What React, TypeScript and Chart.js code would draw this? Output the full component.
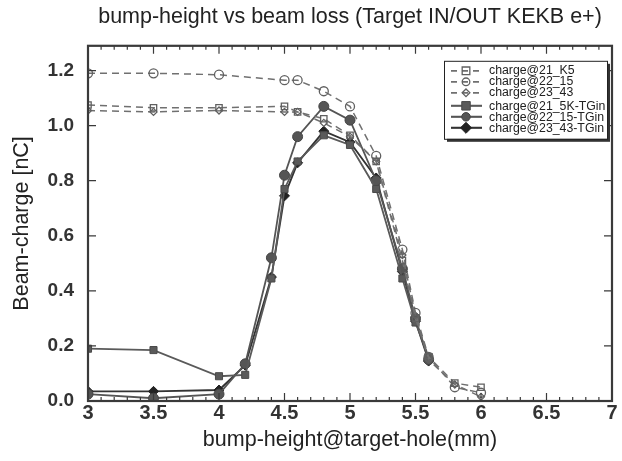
import React, { useEffect, useRef } from "react";
import { Chart, registerables } from "chart.js";

Chart.register(...registerables);

// ---- data ----
const xDashed = [3, 3.5, 4, 4.5, 4.6, 4.8, 5, 5.2, 5.4, 5.5, 5.6, 5.8, 6];
const charge21K5 = [1.075, 1.065, 1.065, 1.07, 1.05, 1.025, 0.965, 0.87, 0.51, 0.3, 0.16, 0.065, 0.05];
const charge22_15 = [1.19, 1.19, 1.185, 1.165, 1.165, 1.125, 1.07, 0.89, 0.55, 0.32, 0.16, 0.05, 0.03];
const charge23_43 = [1.055, 1.05, 1.055, 1.05, 1.05, 1.01, 0.96, 0.87, 0.53, 0.31, 0.15, 0.06, 0.015];

const xSolid = [3, 3.5, 4, 4.2, 4.4, 4.5, 4.6, 4.8, 5, 5.2, 5.4, 5.5, 5.6];
const charge21TGin = [0.19, 0.185, 0.09, 0.095, 0.445, 0.77, 0.87, 0.965, 0.93, 0.77, 0.445, 0.285, 0.16];
const charge22TGin = [0.025, 0.01, 0.025, 0.135, 0.52, 0.82, 0.96, 1.07, 1.02, 0.8, 0.48, 0.3, 0.15];
const charge23TGin = [0.035, 0.035, 0.04, 0.13, 0.45, 0.745, 0.865, 0.98, 0.94, 0.81, 0.47, 0.29, 0.145];

const labels = [
  "charge@21_K5",
  "charge@22_15",
  "charge@23_43",
  "charge@21_5K-TGin",
  "charge@22_15-TGin",
  "charge@23_43-TGin",
];

const xTickValues = [3, 3.5, 4, 4.5, 5, 5.5, 6, 6.5, 7];
const yTickValues = [0, 0.2, 0.4, 0.6, 0.8, 1.0, 1.2];

const FONT = "'Liberation Sans', Arial, Helvetica, sans-serif";
const FRAME = "#3a3a3a";

const pts = (xs: number[], ys: number[]) => xs.map((x, i) => ({ x, y: ys[i] }));

function drawMarker(ctx: CanvasRenderingContext2D, style: string, x: number, y: number, r: number, fill: string, stroke: string, lw: number) {
  ctx.save();
  ctx.beginPath();
  if (style === "rect") {
    ctx.rect(x - r, y - r, 2 * r, 2 * r);
  } else if (style === "rectRot") {
    ctx.moveTo(x, y - r * 1.3);
    ctx.lineTo(x + r * 1.3, y);
    ctx.lineTo(x, y + r * 1.3);
    ctx.lineTo(x - r * 1.3, y);
    ctx.closePath();
  } else {
    ctx.arc(x, y, r, 0, Math.PI * 2);
  }
  ctx.fillStyle = fill;
  ctx.fill();
  ctx.setLineDash([]);
  ctx.lineWidth = lw;
  ctx.strokeStyle = stroke;
  ctx.stroke();
  ctx.restore();
}

const framePlugin = {
  id: "frameTicks",
  afterDatasetsDraw(chart: any) {
    const { ctx, chartArea: a, scales } = chart;
    const xs = scales.x;
    const ys = scales.y;
    ctx.save();
    ctx.strokeStyle = FRAME;
    ctx.lineWidth = 1.2;
    for (let i = 30; i <= 70; i++) {
      const v = i / 10;
      const px = xs.getPixelForValue(v);
      const len = i % 5 === 0 ? 8 : 4;
      ctx.beginPath();
      ctx.moveTo(px, a.bottom);
      ctx.lineTo(px, a.bottom - len);
      ctx.moveTo(px, a.top);
      ctx.lineTo(px, a.top + len);
      ctx.stroke();
    }
    for (const v of yTickValues) {
      const py = ys.getPixelForValue(v);
      ctx.beginPath();
      ctx.moveTo(a.left, py);
      ctx.lineTo(a.left + 8, py);
      ctx.moveTo(a.right, py);
      ctx.lineTo(a.right - 8, py);
      ctx.stroke();
    }
    ctx.lineWidth = 2.2;
    ctx.strokeRect(a.left, a.top, a.right - a.left, a.bottom - a.top);
    ctx.restore();
  },
};

const legendPlugin = {
  id: "boxLegend",
  afterDraw(chart: any) {
    const { ctx, chartArea: a } = chart;
    const left = a.right - 168;
    const top = a.top + 15;
    const w = 163;
    const h = 78;
    ctx.save();
    ctx.fillStyle = "#333";
    ctx.fillRect(left + 3, top + 3, w, h);
    ctx.fillStyle = "#fff";
    ctx.fillRect(left, top, w, h);
    ctx.strokeStyle = "#222";
    ctx.lineWidth = 1;
    ctx.strokeRect(left + 0.5, top + 0.5, w, h);
    const rows = [10, 21, 32, 45, 56, 67];
    chart.data.datasets.forEach((ds: any, i: number) => {
      const y = top + rows[i];
      ctx.save();
      ctx.strokeStyle = ds.borderColor;
      ctx.lineWidth = ds.borderWidth + 0.3;
      ctx.setLineDash(ds.borderDash && ds.borderDash.length ? [6, 5] : []);
      ctx.beginPath();
      ctx.moveTo(left + 7, y);
      ctx.lineTo(left + 38, y);
      ctx.stroke();
      ctx.restore();
      drawMarker(
        ctx,
        ds.pointStyle,
        left + 22,
        y,
        ds.pointRadius * 0.85,
        ds.pointBackgroundColor,
        ds.pointBorderColor,
        ds.pointBorderWidth
      );
      ctx.fillStyle = "#222";
      ctx.font = `12.3px ${FONT}`;
      ctx.textBaseline = "middle";
      ctx.textAlign = "left";
      ctx.fillText(ds.label, left + 45, y + (i >= 3 ? 1 : 0));
    });
    ctx.restore();
  },
};

export default function App() {
  const ref = useRef<HTMLCanvasElement | null>(null);

  useEffect(() => {
    if (!ref.current) return;
    const dashedBase = {
      borderColor: "#707070",
      borderWidth: 1.5,
      borderDash: [7, 5],
      pointBackgroundColor: "rgba(255,255,255,0)",
      pointBorderColor: "#606060",
      pointBorderWidth: 1.3,
      tension: 0,
    };
    const solidBase = {
      borderWidth: 1.8,
      borderDash: [],
      pointBorderWidth: 1,
      tension: 0,
    };
    const chart = new Chart(ref.current, {
      type: "line",
      data: {
        datasets: [
          { ...dashedBase, label: labels[0], data: pts(xDashed, charge21K5), pointStyle: "rect", pointRadius: 4.5 },
          { ...dashedBase, label: labels[1], data: pts(xDashed, charge22_15), pointStyle: "circle", pointRadius: 4.5 },
          { ...dashedBase, label: labels[2], data: pts(xDashed, charge23_43), pointStyle: "rectRot", pointRadius: 3.5 },
          {
            ...solidBase,
            label: labels[3],
            data: pts(xSolid, charge21TGin),
            borderColor: "#5a5a5a",
            pointStyle: "rect",
            pointRadius: 5,
            pointBackgroundColor: "#5a5a5a",
            pointBorderColor: "#4a4a4a",
          },
          {
            ...solidBase,
            label: labels[4],
            data: pts(xSolid, charge22TGin),
            borderColor: "#555",
            pointStyle: "circle",
            pointRadius: 5,
            pointBackgroundColor: "#555",
            pointBorderColor: "#444",
          },
          {
            ...solidBase,
            label: labels[5],
            data: pts(xSolid, charge23TGin),
            borderColor: "#333",
            pointStyle: "rectRot",
            pointRadius: 5,
            pointBackgroundColor: "#222",
            pointBorderColor: "#222",
          },
        ] as any,
      },
      options: {
        animation: false,
        responsive: false,
        devicePixelRatio: window.devicePixelRatio || 1,
        layout: { padding: { left: 0, right: 10, top: 0, bottom: 0 } },
        plugins: {
          legend: { display: false },
          tooltip: { enabled: false },
          title: {
            display: true,
            text: "bump-height vs beam loss (Target IN/OUT KEKB e+)",
            fullSize: false,
            color: "#222",
            font: { family: FONT, size: 21.5, weight: "normal" },
            padding: { top: 4, bottom: 16 },
          },
        },
        scales: {
          x: {
            type: "linear",
            min: 3,
            max: 7,
            afterBuildTicks: (s: any) => {
              s.ticks = xTickValues.map((v) => ({ value: v }));
            },
            afterFit: (s: any) => {
              s.height = 60;
            },
            grid: { display: false, drawTicks: false },
            border: { display: false },
            ticks: {
              color: "#333",
              padding: 0,
              maxRotation: 0,
              autoSkip: false,
              font: { family: FONT, size: 20, weight: "bold" },
              callback: (v: any) => String(v),
            },
            title: {
              display: true,
              text: "bump-height@target-hole(mm)",
              color: "#222",
              font: { family: FONT, size: 21.5, weight: "normal" },
              padding: 8,
            },
          },
          y: {
            type: "linear",
            min: 0,
            max: 1.29,
            afterBuildTicks: (s: any) => {
              s.ticks = yTickValues.map((v) => ({ value: v }));
            },
            afterFit: (s: any) => {
              s.width = 88;
            },
            grid: { display: false, drawTicks: false },
            border: { display: false },
            ticks: {
              color: "#333",
              padding: 14,
              autoSkip: false,
              font: { family: FONT, size: 19, weight: "bold" },
              callback: (v: any) => Number(v).toFixed(1),
            },
            title: {
              display: true,
              text: "Beam-charge [nC]",
              color: "#222",
              font: { family: FONT, size: 21.5, weight: "normal" },
              padding: 9,
            },
          },
        },
      } as any,
      plugins: [framePlugin, legendPlugin],
    });
    return () => chart.destroy();
  }, []);

  return (
    <div style={{ position: "absolute", left: 0, top: 0, width: 622, height: 461, background: "#fff" }}>
      <canvas ref={ref} width={622} height={461} style={{ width: 622, height: 461 }} />
    </div>
  );
}
